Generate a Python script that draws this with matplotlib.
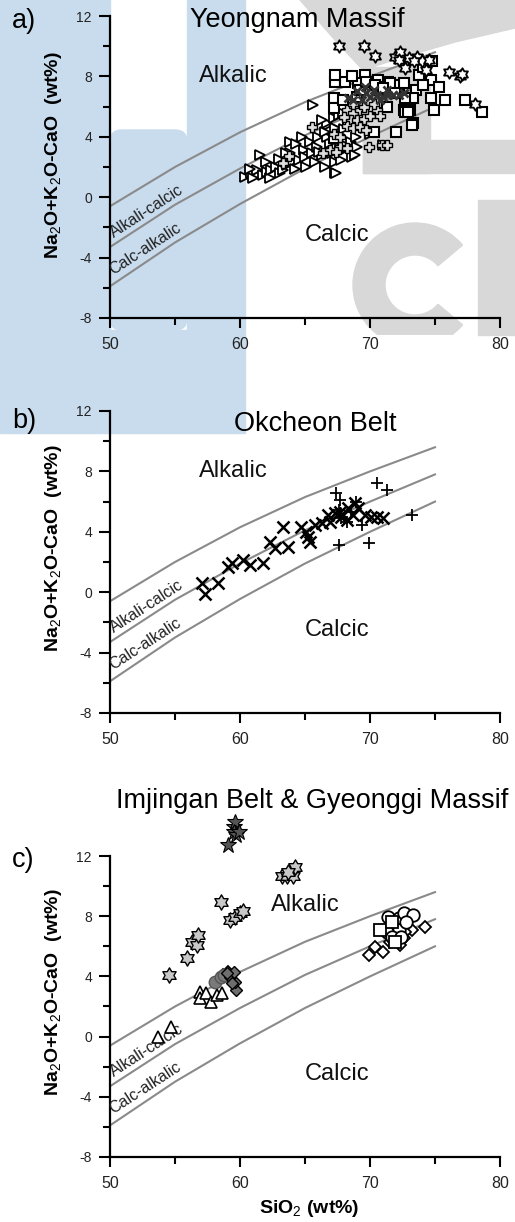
import matplotlib
matplotlib.use('Agg')
import numpy as np
import matplotlib.pyplot as plt
from matplotlib.path import Path
from matplotlib.patches import Rectangle, Polygon, Wedge, FancyBboxPatch
from matplotlib.transforms import Affine2D

plt.rcParams['font.family'] = ['Liberation Sans', 'DejaVu Sans']
plt.rcParams['mathtext.fontset'] = 'custom'
plt.rcParams['mathtext.rm'] = 'Liberation Sans'
plt.rcParams['mathtext.bf'] = 'Liberation Sans:bold'
plt.rcParams['axes.unicode_minus'] = False

# boundary curves (Frost et al. MALI fields)
bound_x = [50, 55, 60, 65, 70, 75]
alkalic_line = [-0.6, 2.0, 4.3, 6.3, 8.0, 9.6]
alkcalcic_line = [-3.3, -0.5, 1.9, 4.1, 6.0, 7.8]
calcalk_line = [-5.9, -3.0, -0.45, 1.9, 4.0, 6.0]

# ---- a) Yeongnam Massif ----
a_tri_x = [60.4, 60.85, 61.3, 61.5, 61.8, 62.05, 62.3, 62.4, 62.8, 63.1, 63.3, 63.6, 63.85, 63.85,
           64.0, 64.2, 64.5, 64.75, 64.9, 65.0, 65.1, 65.4, 65.5, 65.8, 65.9, 66.0, 66.3, 66.5,
           66.8, 66.9, 67.05, 67.3, 67.3, 67.6, 67.7, 65.6, 66.7, 66.7, 67.3, 67.7, 67.7, 67.4,
           68.1, 67.8, 68.6, 68.5, 69.0, 69.6, 67.2, 67.6, 71.0, 68.85, 60.8, 61.0, 62.0, 63.0,
           63.5, 64.3, 66.1, 66.5, 68.0, 68.9, 70.0, 69.3, 67.9, 66.3]
a_tri_y = [1.36, 1.58, 1.8, 2.79, 1.47, 1.69, 1.25, 1.8, 2.02, 1.58, 1.8, 2.13, 3.68, 2.9,
           2.35, 1.9, 2.46, 4.01, 3.13, 2.68, 2.02, 3.68, 2.9, 2.35, 3.35, 4.01, 2.79, 2.02,
           4.78, 3.57, 2.9, 2.35, 1.58, 4.45, 3.24, 6.1, 4.9, 4.0, 4.56, 4.12, 3.0, 1.6,
           3.46, 2.46, 2.68, 3.68, 3.35, 4.56, 5.22, 5.44, 3.45, 2.8, 1.9, 1.3, 2.3, 2.5,
           2.9, 3.5, 3.0, 4.3, 4.5, 4.0, 4.2, 5.0, 5.6, 5.1]

a_sq_x = [67.3, 68.1, 67.3, 69.6, 69.1, 70.6, 71.4, 72.2, 73.5, 73.8, 74.7, 75.3, 75.8, 74.7,
          74.9, 73.3, 72.6, 73.1, 73.3, 73.2, 72.0, 71.3, 70.4, 70.3, 67.2, 67.2, 67.9, 69.0,
          69.2, 70.6, 69.7, 71.1, 72.6, 74.1, 74.8, 77.3, 78.6, 74.1, 72.7, 72.7, 70.4, 71.5,
          71.0, 72.9, 67.2, 68.3, 69.9, 71.9, 68.6]
a_sq_y = [7.65, 7.65, 8.1, 8.1, 7.55, 7.75, 7.65, 7.4, 7.1, 8.1, 7.75, 7.3, 6.45, 6.55,
          5.8, 6.55, 5.8, 5.8, 4.9, 4.8, 4.35, 6.0, 5.55, 4.35, 6.55, 5.9, 6.45, 6.65,
          7.1, 7.1, 7.65, 7.3, 7.55, 8.6, 9.0, 6.45, 5.65, 7.4, 6.55, 5.66, 7.4, 7.55,
          7.2, 5.66, 3.95, 4.9, 5.7, 6.9, 8.0]

a_plus_x = [65.5, 69.9, 70.9, 71.3, 67.7, 68.2, 68.2, 68.7, 69.2, 69.7, 68.5, 69.0, 69.5, 70.0,
            68.2, 68.7, 69.2, 69.7, 67.2, 67.7, 66.9, 67.4, 66.4, 68.0, 70.5, 70.3, 70.8, 68.7,
            69.5, 63.8, 63.3]
a_plus_y = [4.67, 3.35, 3.45, 3.45, 3.35, 3.25, 5.8, 5.55, 5.8, 5.55, 5.1, 5.1, 5.2, 5.35,
            4.7, 4.55, 4.67, 4.45, 4.2, 4.0, 3.1, 3.0, 2.9, 5.3, 5.8, 6.2, 5.35, 6.2,
            6.0, 2.7, 2.25]

a_x_x = [68.3, 69.0, 69.6, 70.0, 70.5, 71.0, 71.4, 71.8, 72.2, 72.6, 69.4, 70.8, 70.3, 69.7,
         68.7, 71.3]
a_x_y = [6.55, 7.0, 7.3, 6.65, 6.75, 6.65, 6.75, 6.75, 6.75, 6.9, 6.45, 6.45, 7.1, 6.9,
         6.45, 7.1]

a_star_x = [67.6, 69.5, 70.4, 71.9, 72.3, 73.0, 73.6, 74.0, 74.5, 72.7, 74.3, 76.1, 76.9, 77.1,
            78.1, 73.4, 72.2]
a_star_y = [10.0, 10.0, 9.35, 9.3, 9.6, 9.2, 9.3, 9.05, 9.1, 8.55, 8.45, 8.3, 8.0, 8.15,
            6.2, 9.0, 9.1]

# ---- b) Okcheon Belt ----
b_x_x = [57.05, 57.3, 58.3, 59.1, 59.35, 60.25, 60.8, 61.8, 62.3, 62.7, 63.3, 63.7, 64.7, 65.25,
         65.4, 65.1, 65.8, 66.3, 66.8, 66.9, 67.3, 67.7, 67.8, 68.3, 68.85, 69.1, 69.6, 70.1,
         70.5, 71.0, 68.7, 68.2]
b_x_y = [0.59, -0.12, 0.63, 1.69, 1.91, 2.13, 1.8, 1.91, 3.35, 2.9, 4.34, 3.02, 4.34, 3.68,
         3.35, 4.0, 4.45, 4.56, 5.11, 4.67, 5.22, 5.33, 5.0, 5.55, 5.88, 5.55, 5.11, 5.0,
         5.0, 4.89, 5.11, 4.78]
b_plus_x = [67.4, 67.7, 67.6, 68.95, 68.2, 69.4, 69.9, 70.5, 71.3, 73.2, 67.6, 68.5, 67.8]
b_plus_y = [6.6, 6.1, 3.13, 6.0, 4.67, 4.45, 3.28, 7.2, 6.77, 5.11, 5.44, 5.33, 4.9]

# ---- c) Imjingan Belt & Gyeonggi Massif ----
c_hex_x = [54.5, 55.9, 56.3, 56.7, 56.8, 58.5, 59.2, 59.6, 60.0, 60.2, 63.2, 63.6, 64.1, 64.2, 63.7]
c_hex_y = [4.1, 5.2, 6.3, 6.1, 6.75, 8.97, 7.75, 7.97, 8.2, 8.37, 10.7, 10.7, 10.7, 11.3, 10.95]
c_star_x = [59.1, 59.5, 59.6, 59.5, 59.7, 59.9]
c_star_y = [12.73, 13.95, 14.28, 13.6, 13.4, 13.6]
c_tri_x = [53.7, 54.7, 56.9, 56.9, 57.4, 57.8, 58.2, 58.6]
c_tri_y = [0.0, 0.66, 2.99, 2.54, 2.88, 2.32, 2.76, 2.88]
c_gcirc_x = [58.1, 58.5, 58.8]
c_gcirc_y = [3.65, 3.98, 4.1]
c_gdiam_x = [59.7, 59.6, 59.2, 59.5, 59.0, 59.4]
c_gdiam_y = [3.1, 3.65, 3.98, 4.3, 4.2, 3.54]
c_wdiam_x = [59.1, 58.7, 69.9, 70.4, 71.0, 71.5, 72.05, 72.6, 73.2, 74.2, 72.7, 72.3]
c_wdiam_y = [4.3, 4.1, 5.42, 5.98, 5.64, 6.3, 6.86, 6.53, 7.08, 7.3, 6.97, 6.1]
c_circ_x = [71.4, 72.2, 72.6, 73.3, 71.8, 72.2, 72.8, 71.3, 71.7, 72.4]
c_circ_y = [7.97, 7.86, 8.2, 8.08, 7.3, 7.08, 7.64, 6.97, 6.64, 6.64]
c_sq_x = [70.8, 71.7, 71.9]
c_sq_y = [7.08, 7.64, 6.3]

W, H = 515, 1222
fig = plt.figure(figsize=(W / 100, H / 100), dpi=100)

# background watermark (pixel coords, y downwards)
px = Affine2D().scale(1 / W, -1 / H).translate(0, 1) + fig.transFigure
BLUE = '#c8dcee'
GREY = '#d8d8d8'
wm = [
    Rectangle((0, 330), 245, 103, color=BLUE),
    Rectangle((187, 0), 58, 330, color=BLUE),
    Rectangle((0, 0), 110, 330, color=BLUE),
    FancyBboxPatch((110, 130), 77, 200, boxstyle='round,pad=0,rounding_size=12', color=BLUE),
    Polygon([(300, 0), (515, 0), (515, 28), (455, 42), (400, 58), (363, 70), (335, 40)], color=GREY),
    Rectangle((363, 67), 67, 106, color=GREY),
    Rectangle((363, 140), 152, 33, color=GREY),
    Rectangle((478, 200), 37, 135, color=GREY),
]
c_ring = Wedge((415, 285), 62, 40, 320, width=32, color=GREY)
wm.append(c_ring)
for p in wm:
    p.set_transform(px)
    p.set_zorder(-5)
    fig.patches.append(p)
clip = Rectangle((0, 0), W, 335, transform=px)
c_ring.set_clip_path(clip)

# six-pointed star (hexagram outline) marker
_ang = np.deg2rad(90 + 30 * np.arange(12))
_r = np.where(np.arange(12) % 2 == 0, 1.0, 1 / np.sqrt(3))
_v = np.column_stack([_r * np.cos(_ang), _r * np.sin(_ang)])
HEX = Path(np.vstack([_v, _v[:1]]), closed=True)


def make_axes(top_px, bottom_px):
    ax = fig.add_axes([110 / W, 1 - bottom_px / H, 390 / W, (bottom_px - top_px) / H])
    ax.patch.set_alpha(0)
    ax.set_xlim(50, 80)
    ax.set_ylim(-8, 12)
    for s in ['top', 'right']:
        ax.spines[s].set_visible(False)
    for s in ['left', 'bottom']:
        ax.spines[s].set_linewidth(1.6)
    ax.set_xticks([50, 60, 70, 80])
    ax.set_xticks([55, 65, 75], minor=True)
    ax.set_yticks([-8, -4, 0, 4, 8, 12])
    ax.set_yticks([-6, -2, 2, 6, 10], minor=True)
    ax.tick_params(axis='y', which='major', length=8, width=1.5, labelsize=10, pad=5, labelcolor='#222')
    ax.tick_params(axis='y', which='minor', length=5, width=1.5)
    ax.tick_params(axis='x', which='major', length=7.5, width=1.5, labelsize=11.5, pad=6, labelcolor='#222')
    ax.tick_params(axis='x', which='minor', length=5, width=1.5)

    for yy in [alkalic_line, alkcalcic_line, calcalk_line]:
        ax.plot(bound_x, yy, color='#8a8a8a', lw=1.5, zorder=1)
    ax.text(50.4, -2.85, 'Alkali-calcic', rotation=33, rotation_mode='anchor',
            ha='left', va='bottom', fontsize=11.5, color='#222')
    ax.text(50.4, -5.3, 'Calc-alkalic', rotation=33, rotation_mode='anchor',
            ha='left', va='bottom', fontsize=11.5, color='#222')
    ax.text(67.5, -2.5, 'Calcic', ha='center', va='center', fontsize=17, color='#111')
    return ax


def pts(ax, x, y, marker, ms, fc='white', ec='black', mew=1.3, z=3):
    ax.plot(x, y, linestyle='none', marker=marker, ms=ms, mfc=fc, mec=ec, mew=mew,
            zorder=z, clip_on=False)


def labels(axes_mid_px, label, title, title_x, title_base, lab_base):
    fig.text(53.5 / W, 1 - axes_mid_px / H, r'Na$_2$O+K$_2$O-CaO  (wt%)', rotation=90,
             ha='center', va='center', fontsize=14, fontweight='bold')
    fig.text(title_x / W, 1 - title_base / H, title, ha='center', va='baseline', fontsize=19.5)
    fig.text(12 / W, 1 - lab_base / H, label, ha='left', va='baseline', fontsize=19.5)


# panel a
ax = make_axes(16, 318)
ax.text(59.5, 8.0, 'Alkalic', ha='center', va='center', fontsize=17, color='#111')
pts(ax, a_tri_x, a_tri_y, '>', 7, mew=1.3)
pts(ax, a_sq_x, a_sq_y, 's', 7.2, mew=1.5)
pts(ax, a_plus_x, a_plus_y, 'P', 7, fc='#dddddd', mew=1.0)
pts(ax, a_x_x, a_x_y, 'x', 6, ec='#333333', mew=2)
pts(ax, a_star_x, a_star_y, HEX, 9, mew=1.3)
labels(155, 'a)', 'Yeongnam Massif', 297, 27, 28)

# panel b
ax = make_axes(411, 713)
ax.text(59.5, 8.0, 'Alkalic', ha='center', va='center', fontsize=17, color='#111')
pts(ax, b_x_x, b_x_y, 'x', 9, mew=1.8)
pts(ax, b_plus_x, b_plus_y, '+', 9, mew=1.3)
labels(548, 'b)', 'Okcheon Belt', 315, 431, 428)

# panel c
ax = make_axes(856, 1157)
ax.text(65.0, 8.74, 'Alkalic', ha='center', va='center', fontsize=17, color='#111')
pts(ax, c_tri_x, c_tri_y, '^', 8.5, mew=1.2)
pts(ax, c_hex_x, c_hex_y, HEX, 11, fc='#c8c8c8', mew=1.0)
pts(ax, c_star_x, c_star_y, '*', 12, fc='#555555', mew=0.8)
pts(ax, c_wdiam_x, c_wdiam_y, 'D', 6.5, mew=1.3)
pts(ax, c_circ_x, c_circ_y, 'o', 9, mew=1.3)
pts(ax, c_sq_x, c_sq_y, 's', 8.5, mew=1.3)
pts(ax, c_gcirc_x, c_gcirc_y, 'o', 9, fc='#7a7a7a', ec='#555555', mew=1.0)
pts(ax, c_gdiam_x, c_gdiam_y, 'D', 6.5, fc='#6e6e6e', mew=1.0)
labels(992, 'c)', 'Imjingan Belt & Gyeonggi Massif', 312.5, 808, 867)
fig.text(309 / W, 1 - 1213 / H, r'SiO$_2$ (wt%)', ha='center', va='baseline',
         fontsize=14, fontweight='bold')

fig.savefig('out.png', dpi=100)
